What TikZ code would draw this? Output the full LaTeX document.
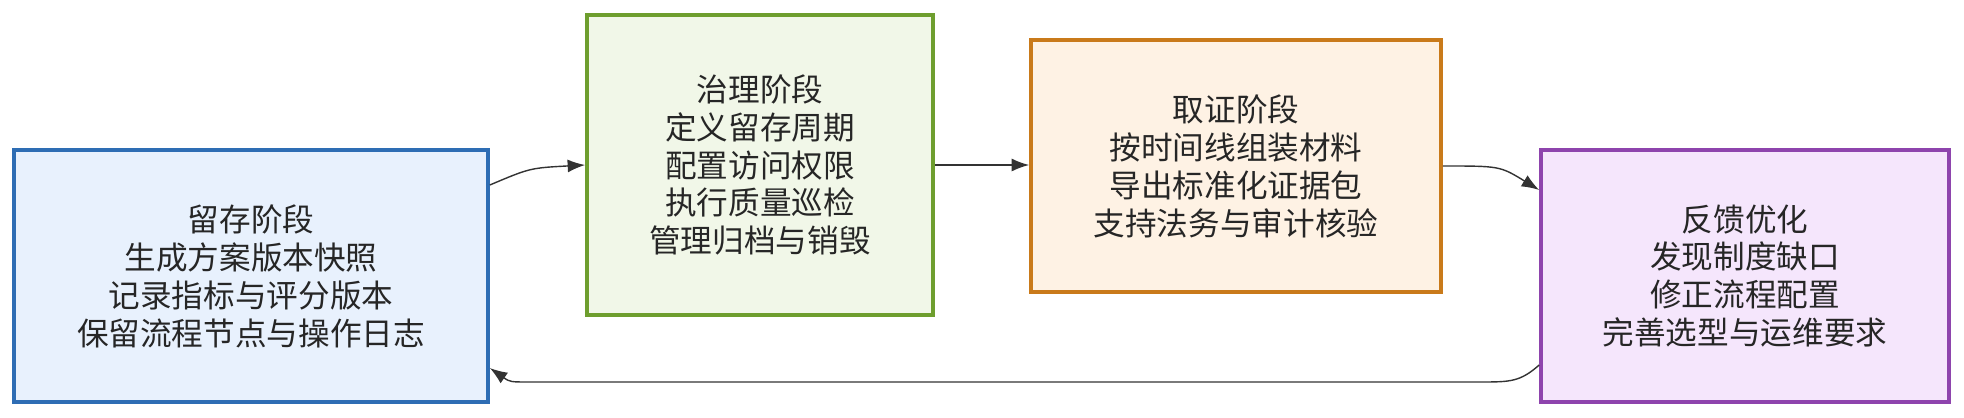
\documentclass[tikz,border=0pt]{standalone}
\usepackage{fontspec}
\setmainfont{Noto Sans CJK SC}
\usetikzlibrary{arrows.meta}
\definecolor{keepfill}{HTML}{E8F1FD}\definecolor{keepline}{HTML}{2E6DB4}
\definecolor{govfill}{HTML}{F1F7E8}\definecolor{govline}{HTML}{6E9E2E}
\definecolor{evifill}{HTML}{FEF2E4}\definecolor{eviline}{HTML}{C97A1A}
\definecolor{fbfill}{HTML}{F5E6FC}\definecolor{fbline}{HTML}{8E44AD}
\tikzset{
  stagebox/.style={draw=#1line, fill=#1fill, line width=2.1pt, align=center,
    font=\fontsize{18}{21.6}\selectfont, text=black!85, inner sep=0pt},
  flow/.style={-{Latex[length=3.5mm,width=2.6mm]}, line width=0.8pt, draw=black!80}
}
\begin{document}
\begin{tikzpicture}[x=0.02cm,y=-0.02cm]
  \useasboundingbox (0,0) rectangle (1964,418);
  % stages
  \node[stagebox=keep, minimum width=474*0.02cm, minimum height=252*0.02cm] (keep) at (251,276)
    {留存阶段\\生成方案版本快照\\记录指标与评分版本\\保留流程节点与操作日志};
  \node[stagebox=gov, minimum width=346*0.02cm, minimum height=300*0.02cm] (gov) at (760,165)
    {治理阶段\\定义留存周期\\配置访问权限\\执行质量巡检\\管理归档与销毁};
  \node[stagebox=evi, minimum width=410*0.02cm, minimum height=252*0.02cm] (evi) at (1236,166)
    {取证阶段\\按时间线组装材料\\导出标准化证据包\\支持法务与审计核验};
  \node[stagebox=fb, minimum width=408*0.02cm, minimum height=252*0.02cm] (fb) at (1745,276)
    {反馈优化\\发现制度缺口\\修正流程配置\\完善选型与运维要求};
  % connectors
  \draw[flow] (keep.east |- 0,185) .. controls (530,168) .. (gov.west |- 0,165);
  \draw[flow] (gov.east |- 0,165) -- (evi.west |- 0,165);
  \draw[flow] (evi.east |- 0,166) .. controls (1500,166) .. (fb.west |- 0,190);
  \draw[flow] (fb.west |- 0,365) .. controls (1520,382) and (1510,382) .. (1480,382)
    -- (530,382) .. controls (510,382) .. (keep.east |- 0,368);
\end{tikzpicture}
\end{document}
